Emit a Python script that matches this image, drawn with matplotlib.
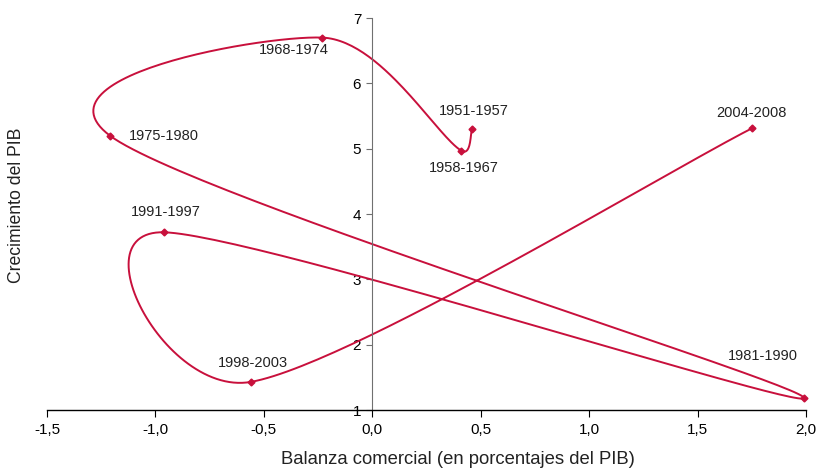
import numpy as np
import matplotlib
matplotlib.use('Agg')
import matplotlib.pyplot as plt

plt.rcParams['font.family'] = ['Liberation Sans', 'DejaVu Sans']

# data (path in chronological order)
periods = ['1951-1957', '1958-1967', '1968-1974', '1975-1980',
           '1981-1990', '1991-1997', '1998-2003', '2004-2008']
trade_balance = [0.46, 0.41, -0.23, -1.21, 1.99, -0.96, -0.56, 1.75]
gdp_growth = [5.30, 4.97, 6.70, 5.20, 1.19, 3.72, 1.43, 5.31]
x_ticks = [-1.5, -1.0, -0.5, 0.0, 0.5, 1.0, 1.5, 2.0]
y_ticks = [1, 2, 3, 4, 5, 6, 7]

# label offsets in pixels (dx, dy, ha)
label_pos = [(2, 18, 'center'), (3, -17, 'center'), (-29, -12, 'center'),
             (19, 0, 'left'), (-41, 42, 'center'), (2, 20, 'center'),
             (2, 19, 'center'), (0, 15, 'center')]

red = '#C8103C'


def clip(v, limit):
    n = np.hypot(*v)
    if n > limit and n > 0:
        return v * limit / n
    return v


def smooth_path(pts, n=60):
    '''Excel-like smoothed line: Catmull-Rom as cubic Bezier, handles capped'''
    pts = np.asarray(pts, dtype=float)
    ext = np.vstack([pts[0], pts, pts[-1]])
    out = []
    t = np.linspace(0, 1, n)[:, None]
    for i in range(1, len(ext) - 2):
        p0, p1, p2, p3 = ext[i - 1], ext[i], ext[i + 1], ext[i + 2]
        half = np.hypot(*(p2 - p1)) / 2.0
        c1 = p1 + clip((p2 - p0) / 6.0, half)
        c2 = p2 - clip((p3 - p1) / 6.0, half)
        seg = ((1 - t) ** 3) * p1 + 3 * ((1 - t) ** 2) * t * c1 \
            + 3 * (1 - t) * t ** 2 * c2 + t ** 3 * p2
        out.append(seg)
    return np.vstack(out)


fig = plt.figure(figsize=(8.2, 4.68), dpi=100)
ax = fig.add_axes([47 / 820, 58 / 468, 759 / 820, 392 / 468])
ax.set_xlim(-1.5, 2.0)
ax.set_ylim(1, 7)

# smooth in display space so the curve looks like the spreadsheet one
disp = ax.transData.transform(np.column_stack([trade_balance, gdp_growth]))
curve = ax.transData.inverted().transform(smooth_path(disp))
ax.plot(curve[:, 0], curve[:, 1], color=red, lw=1.4, clip_on=False)
ax.plot(trade_balance, gdp_growth, ls='none', marker='D', ms=3.5,
        color=red, clip_on=False)

for name, x, y, (dx, dy, ha) in zip(periods, trade_balance, gdp_growth, label_pos):
    ax.annotate(name, (x, y), xytext=(dx, dy), textcoords='offset pixels',
                ha=ha, va='center', fontsize=10.5, color='#222222')

ax.spines['top'].set_visible(False)
ax.spines['right'].set_visible(False)
ax.spines['left'].set_position(('data', 0))
ax.spines['left'].set_color('#707070')
ax.spines['bottom'].set_color('black')
ax.spines['bottom'].set_linewidth(1.0)

ax.set_xticks(x_ticks)
ax.set_xticklabels([f'{v:.1f}'.replace('.', ',') for v in x_ticks])
ax.set_yticks(y_ticks)
ax.set_yticklabels([str(v) for v in y_ticks])
ax.tick_params(axis='x', direction='out', length=5, labelsize=11, pad=4)
ax.tick_params(axis='y', direction='out', length=4, labelsize=11,
               color='#707070', pad=4)

fig.text(458 / 820, 1 - 460 / 468, 'Balanza comercial (en porcentajes del PIB)',
         ha='center', va='center', fontsize=13.3, color='#222222')
fig.text(17 / 820, 1 - 205 / 468, 'Crecimiento del PIB', rotation=90,
         ha='center', va='center', fontsize=12.7, color='#222222')

fig.savefig('out.png', dpi=100)
